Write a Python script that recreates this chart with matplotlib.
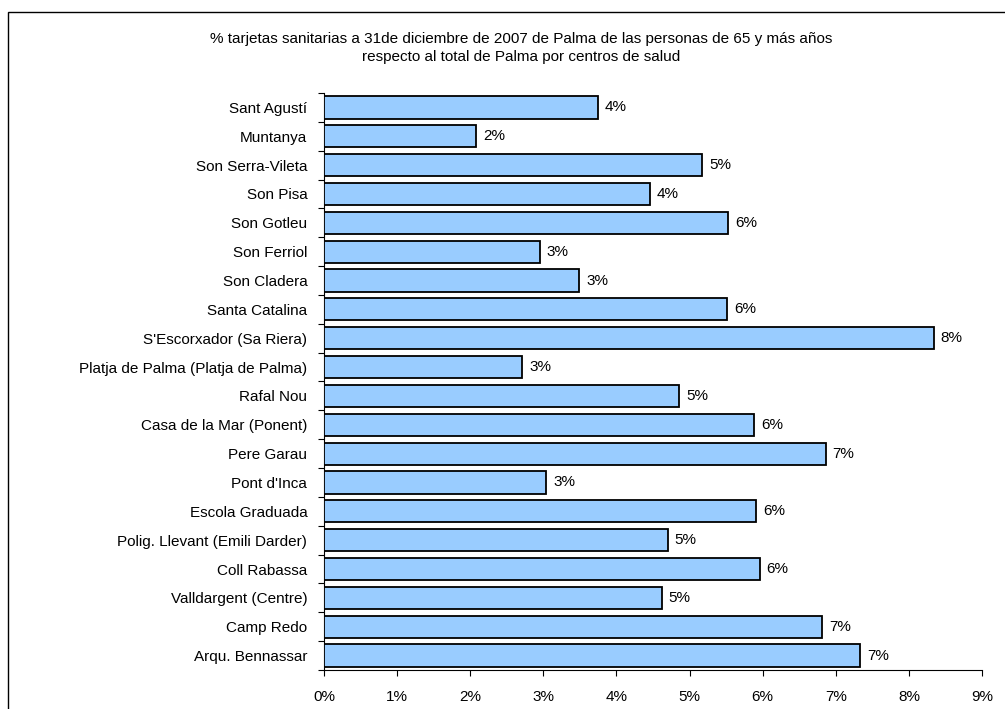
import matplotlib
matplotlib.use("Agg")
import matplotlib.pyplot as plt
import matplotlib.patches as mpatches
from matplotlib.ticker import FuncFormatter, FixedLocator
import numpy as np

plt.rcParams['font.family'] = ['Liberation Sans', 'DejaVu Sans']

title = ("% tarjetas sanitarias a 31de diciembre de 2007 de Palma de las personas de 65 y más años\n"
         "respecto al total de Palma por centros de salud")

centros = [
    "Sant Agustí",
    "Muntanya",
    "Son Serra-Vileta",
    "Son Pisa",
    "Son Gotleu",
    "Son Ferriol",
    "Son Cladera",
    "Santa Catalina",
    "S'Escorxador (Sa Riera)",
    "Platja de Palma (Platja de Palma)",
    "Rafal Nou",
    "Casa de la Mar (Ponent)",
    "Pere Garau",
    "Pont d'Inca",
    "Escola Graduada",
    "Polig. Llevant (Emili Darder)",
    "Coll Rabassa",
    "Valldargent (Centre)",
    "Camp Redo",
    "Arqu. Bennassar",
]

porcentajes = [3.75, 2.08, 5.17, 4.46, 5.53, 2.95, 3.49, 5.51, 8.34, 2.71,
               4.86, 5.88, 6.86, 3.04, 5.91, 4.70, 5.96, 4.62, 6.81, 7.33]

x_ticks = [0, 1, 2, 3, 4, 5, 6, 7, 8, 9]

W, H = 1005, 709
FS = 11
fig = plt.figure(figsize=(W / 100, H / 100), dpi=100)
fig.patch.set_facecolor('white')

# outer chart border
border = mpatches.Rectangle((8 / W, -0.1), 2.0, (H - 12) / H + 0.1,
                            transform=fig.transFigure, fill=False,
                            edgecolor='black', linewidth=1.0, clip_on=False)
fig.add_artist(border)

ax = fig.add_axes([324 / W, (H - 670) / H, (982 - 324) / W, (670 - 93) / H])

y = np.arange(len(centros))
ax.barh(y, porcentajes, height=0.77, color='#99CCFF', edgecolor='black',
        linewidth=1.3, zorder=3)

for yi, v in zip(y, porcentajes):
    ax.annotate(f"{int(np.floor(v + 0.5))}%", xy=(v, yi), xytext=(5, 0),
                textcoords='offset points', va='center', ha='left',
                fontsize=FS, color='black')

ax.set_xlim(0, 9)
ax.set_ylim(len(centros) - 0.5, -0.5)
ax.set_xticks(x_ticks)
ax.xaxis.set_major_formatter(FuncFormatter(lambda v, p: f"{int(v)}%"))
ax.set_yticks(y)
ax.set_yticklabels(centros)
ax.yaxis.set_minor_locator(FixedLocator(np.arange(len(centros) + 1) - 0.5))

ax.tick_params(axis='y', which='major', length=0, pad=12, labelsize=FS)
ax.tick_params(axis='y', which='minor', length=4, width=0.8, direction='out', color='black')
ax.tick_params(axis='x', which='major', length=4.3, width=0.8, direction='out',
               pad=10, labelsize=FS, color='black')

for s in ['top', 'right']:
    ax.spines[s].set_visible(False)
for s in ['left', 'bottom']:
    ax.spines[s].set_color('black')
    ax.spines[s].set_linewidth(0.8)

fig.text(521 / W, 1 - 48 / H, title, ha='center', va='center', fontsize=FS,
         linespacing=1.3)

fig.savefig('out.png', dpi=100, facecolor='white')
